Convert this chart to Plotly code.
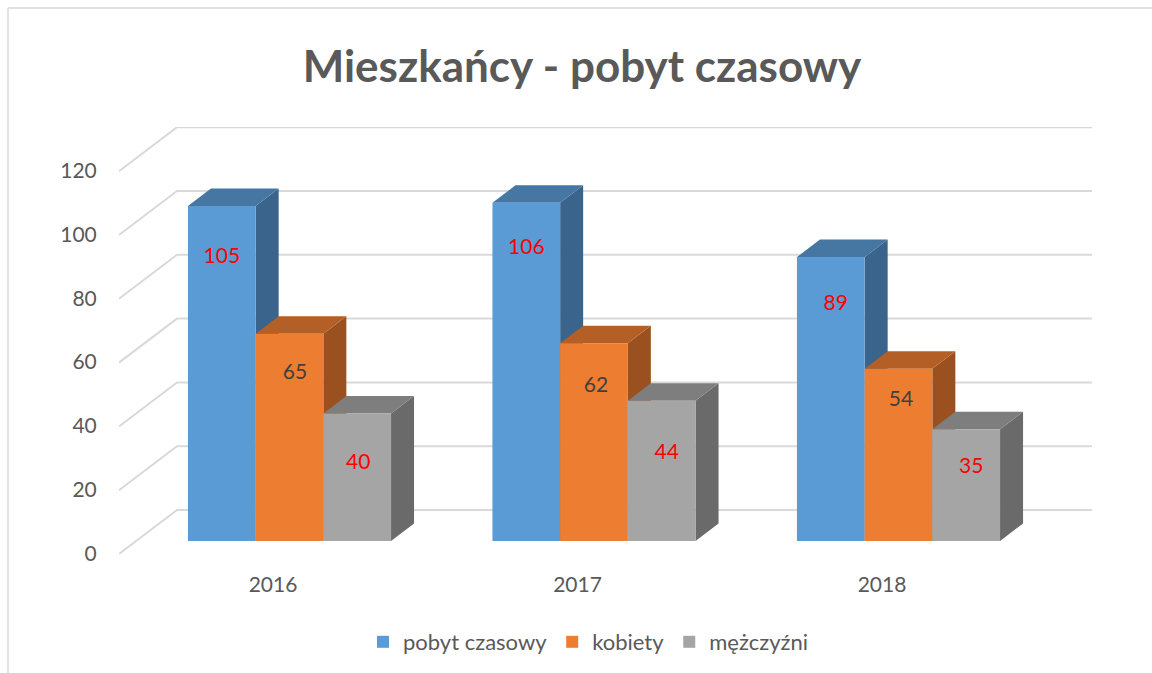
import plotly.graph_objects as go

# ---- data ----
years = ["2016", "2017", "2018"]
series_names = ["pobyt czasowy", "kobiety", "mężczyźni"]
pobyt_czasowy = [105, 106, 89]
kobiety = [65, 62, 54]
mezczyzni = [40, 44, 35]
axis_values = [0, 20, 40, 60, 80, 100, 120]

# ---- styles ----
front_colors = ["#5B9BD5", "#ED7D31", "#A5A5A5"]
top_colors = ["#4676A2", "#B45F25", "#7E7E7E"]
side_colors = ["#3A648B", "#9A511F", "#6A6A6A"]
label_colors = ["#FF0000", "#404040", "#FF0000"]
# manual placement of data labels below bar tops (value units), and sideways (px)
label_drop = [[16.2, 14.3, 14.8], [12.5, 13.8, 10.0], [15.8, 16.8, 12.0]]
label_shift = [[0, 0, 5], [5.5, 2, 2.5], [1, 5, 5]]
FONT = "Lato"
TEXT = "#595959"
GRID = "#D9D9D9"

W, H = 1152, 673
L, R, T, B = 119, 1092, 127, 560
GROUP_PX = 304.5
UNIT_PX = 3.19
X0_PX = 289.5
Y0_PX = 541
BAR_W = 67.7 / GROUP_PX
DX = 23 / GROUP_PX
DY = 17.5 / UNIT_PX

x_range = [(L - X0_PX) / GROUP_PX, (R - X0_PX) / GROUP_PX]
y_range = [(Y0_PX - B) / UNIT_PX, (Y0_PX - T) / UNIT_PX]
FLOOR_FRONT = -(554 - Y0_PX) / UNIT_PX
WALL_BACK = (Y0_PX - 510) / UNIT_PX
CORNER_X = (177 - X0_PX) / GROUP_PX

all_series = [pobyt_czasowy, kobiety, mezczyzni]
group_x = list(range(len(years)))

fig = go.Figure()

# gridlines: floor-side diagonal + back wall
gx, gy = [], []
for g in axis_values:
    gx += [x_range[0], CORNER_X, x_range[1], None]
    gy += [g + FLOOR_FRONT, g + WALL_BACK, g + WALL_BACK, None]
fig.add_trace(go.Scatter(x=gx, y=gy, mode="lines", line=dict(color=GRID, width=2),
                         showlegend=False, hoverinfo="skip", cliponaxis=False))

# top and side faces, left to right
for s, vals in enumerate(all_series):
    tx, ty, sx, sy = [], [], [], []
    for i, v in enumerate(vals):
        left = group_x[i] + (s - 1.5) * BAR_W
        right = left + BAR_W
        tx += [left, right, right + DX, left + DX, left, None]
        ty += [v, v, v + DY, v + DY, v, None]
        sx += [right, right + DX, right + DX, right, right, None]
        sy += [0, DY, v + DY, v, 0, None]
    fig.add_trace(go.Scatter(x=sx, y=sy, mode="lines", fill="toself", fillcolor=side_colors[s],
                             line=dict(width=0), showlegend=False, hoverinfo="skip"))
    fig.add_trace(go.Scatter(x=tx, y=ty, mode="lines", fill="toself", fillcolor=top_colors[s],
                             line=dict(width=0), showlegend=False, hoverinfo="skip"))

# front faces on an overlay subplot so they sit above the side faces
for s, vals in enumerate(all_series):
    fig.add_trace(go.Bar(x=group_x, y=vals, name=series_names[s], marker=dict(color=front_colors[s], line=dict(width=0)),
                         width=BAR_W, xaxis="x2", yaxis="y2", offsetgroup=str(s)))

for s, vals in enumerate(all_series):
    xs = [group_x[i] + (s - 1) * BAR_W + label_shift[s][i] / GROUP_PX for i in range(len(vals))]
    ys = [v - label_drop[s][i] for i, v in enumerate(vals)]
    fig.add_trace(go.Scatter(x=xs, y=ys, mode="text", text=[str(v) for v in vals],
                             textposition="middle center",
                             textfont=dict(family=FONT, size=21, color=label_colors[s]),
                             xaxis="x2", yaxis="y2", showlegend=False, hoverinfo="skip"))

border = dict(type="line", xref="paper", yref="paper", line=dict(color=GRID, width=1.5))
px = lambda p: (p - L) / (R - L)
py = lambda p: (B - p) / (B - T)

fig.update_layout(
    width=W, height=H,
    margin=dict(l=L, r=W - R, t=T, b=H - B, autoexpand=False),
    paper_bgcolor="white", plot_bgcolor="white",
    barmode="group", bargap=1 - 3 * BAR_W, bargroupgap=0,
    font=dict(family=FONT, color=TEXT, size=20),
    title=dict(text="<b>Mieszkańcy - pobyt czasowy</b>", x=582 / W, xanchor="center",
               y=1 - 67 / H, yanchor="middle", font=dict(family=FONT, size=44, color=TEXT)),
    xaxis=dict(range=x_range, tickmode="array",
               tickvals=[i - 16.5 / GROUP_PX for i in group_x], ticktext=years,
               showgrid=False, zeroline=False, showline=False, ticks="outside", ticklen=6,
               tickcolor="rgba(0,0,0,0)", tickfont=dict(family=FONT, size=21, color=TEXT), fixedrange=True),
    yaxis=dict(range=y_range, tickmode="array",
               tickvals=[g - 12.5 / UNIT_PX for g in axis_values], ticktext=[str(g) for g in axis_values],
               showgrid=False, zeroline=False, showline=False, ticks="outside", ticklen=17,
               tickcolor="rgba(0,0,0,0)", tickfont=dict(family=FONT, size=21, color=TEXT), fixedrange=True),
    xaxis2=dict(range=x_range, overlaying="x", visible=False, fixedrange=True),
    yaxis2=dict(range=y_range, overlaying="y", visible=False, fixedrange=True),
    legend=dict(orientation="h", x=588 / W, xanchor="center", xref="container",
                y=1 - 642 / H, yref="container", yanchor="middle",
                font=dict(family=FONT, size=22, color=TEXT), bgcolor="rgba(0,0,0,0)"),
    shapes=[dict(border, x0=px(8), x1=px(W), y0=py(8), y1=py(8)),
            dict(border, x0=px(8), x1=px(8), y0=py(8), y1=py(H))],
)

fig.write_html("out.html", post_script="document.body.style.margin='0';", config={"displayModeBar": False})
